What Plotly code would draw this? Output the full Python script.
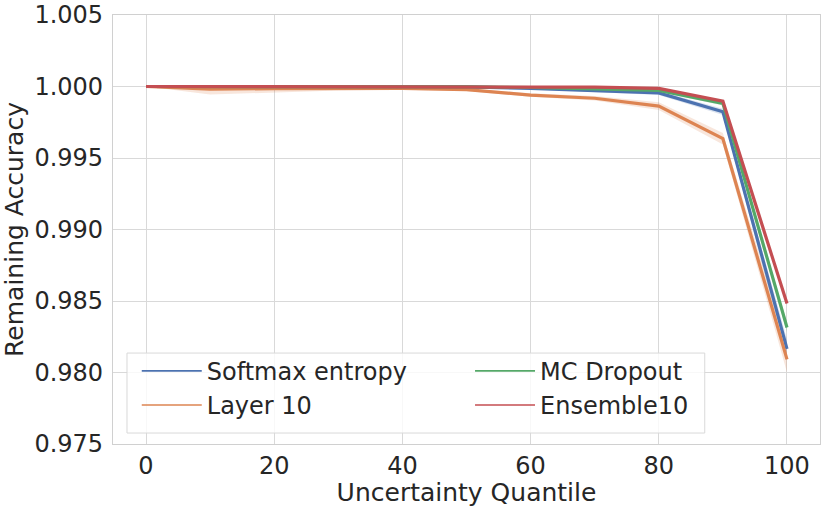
import plotly.graph_objects as go

quantiles = [0, 10, 20, 30, 40, 50, 60, 70, 80, 90, 100]

softmax_mean = [1.0, 0.99998, 0.99998, 0.99998, 0.99998, 0.99997, 0.99987, 0.99972, 0.99955, 0.99823, 0.98165]
softmax_lo = [1.0, 0.99995, 0.99995, 0.99995, 0.99995, 0.99993, 0.99980, 0.99962, 0.99940, 0.99800, 0.98100]
softmax_hi = [1.0, 1.0, 1.0, 1.0, 1.0, 1.0, 0.99994, 0.99982, 0.99968, 0.99845, 0.98230]

layer10_mean = [1.0, 0.99982, 0.99985, 0.99987, 0.99986, 0.99978, 0.99940, 0.99918, 0.99863, 0.99635, 0.98092]
layer10_lo = [1.0, 0.99944, 0.99960, 0.99972, 0.99978, 0.99968, 0.99928, 0.99902, 0.99835, 0.99595, 0.98000]
layer10_hi = [1.0, 1.0, 1.0, 1.0, 0.99994, 0.99988, 0.99952, 0.99934, 0.99890, 0.99675, 0.98185]

mc_mean = [1.0, 1.0, 0.99999, 0.99999, 0.99998, 0.99998, 0.99993, 0.99981, 0.99972, 0.99882, 0.98315]
mc_lo = [1.0, 0.99998, 0.99997, 0.99997, 0.99996, 0.99995, 0.99988, 0.99975, 0.99963, 0.99868, 0.98280]
mc_hi = [1.0, 1.0, 1.0, 1.0, 1.0, 1.0, 0.99998, 0.99988, 0.99980, 0.99895, 0.98350]

ens_mean = [1.0, 1.0, 1.0, 1.0, 1.0, 1.0, 0.99999, 0.99995, 0.99987, 0.99897, 0.98483]
ens_lo = [1.0, 1.0, 1.0, 1.0, 0.99999, 0.99999, 0.99997, 0.99992, 0.99982, 0.99890, 0.98470]
ens_hi = [1.0, 1.0, 1.0, 1.0, 1.0, 1.0, 1.0, 0.99998, 0.99992, 0.99904, 0.98496]

names = ["Softmax entropy", "Layer 10", "MC Dropout", "Ensemble10"]
colors = ["#4c72b0", "#dd8452", "#55a868", "#c44e52"]
bands = ["rgba(76,114,176,0.2)", "rgba(221,132,82,0.2)", "rgba(85,168,104,0.2)", "rgba(196,78,82,0.2)"]
legend_ids = ["legend", "legend", "legend2", "legend2"]

series = [
    (softmax_mean, softmax_lo, softmax_hi),
    (layer10_mean, layer10_lo, layer10_hi),
    (mc_mean, mc_lo, mc_hi),
    (ens_mean, ens_lo, ens_hi),
]

fig = go.Figure()

# confidence bands first, lines on top
for (mean, lo, hi), band in zip(series, bands):
    fig.add_trace(go.Scatter(
        x=quantiles + quantiles[::-1], y=hi + lo[::-1],
        fill="toself", fillcolor=band, line=dict(width=0),
        mode="lines", showlegend=False, hoverinfo="skip"))

for (mean, lo, hi), name, color in zip(series, names, colors):
    fig.add_trace(go.Scatter(
        x=quantiles, y=mean, name=name, mode="lines",
        line=dict(color=color, width=3.2), showlegend=False))

# legend entries drawn with thinner lines, like matplotlib's legend handles
for name, color, leg in zip(names, colors, legend_ids):
    fig.add_trace(go.Scatter(
        x=[None], y=[None], name=name, mode="lines",
        line=dict(color=color, width=1.6), legend=leg))

axis_common = dict(
    showgrid=True, gridcolor="#d9d9d9", gridwidth=1,
    showline=True, linecolor="#d0d0d0", linewidth=1.2, mirror=True,
    zeroline=False, ticks="", ticklabeloverflow="allow",
    tickfont=dict(size=24, color="#262626"),
)

legend_common = dict(
    orientation="v", yanchor="top", xanchor="left", y=0.222,
    font=dict(size=24, color="#262626"),
    bgcolor="rgba(0,0,0,0)", borderwidth=0, itemwidth=60,
)

fig.update_layout(
    width=830, height=507,
    margin=dict(l=113, r=10, t=15, b=63),
    plot_bgcolor="white", paper_bgcolor="white",
    font=dict(family="DejaVu Sans", color="#262626"),
    xaxis=dict(range=[-5.15, 105.15], tickvals=[0, 20, 40, 60, 80, 100], automargin=False,
               title=dict(text="Uncertainty Quantile", font=dict(size=25), standoff=0),
               **axis_common),
    yaxis=dict(range=[0.975, 1.005], tickvals=[0.975, 0.98, 0.985, 0.99, 0.995, 1.0, 1.005],
               tickformat=".3f", ticklabelstandoff=4, automargin="left",
               title=dict(text="Remaining Accuracy", font=dict(size=25), standoff=7),
               **axis_common),
    legend=dict(x=0.0336, **legend_common),
    legend2=dict(x=0.505, **legend_common),
    shapes=[dict(type="rect", xref="paper", yref="paper",
                 x0=0.0198, x1=0.837, y0=0.0256, y1=0.212,
                 fillcolor="rgba(255,255,255,0.8)", line=dict(color="#d9d9d9", width=1),
                 layer="above")],
)

# the page's default body margin would clip the top tick label
fig.write_html("out.html", config={"displayModeBar": False},
               post_script="document.body.style.margin='0';")
